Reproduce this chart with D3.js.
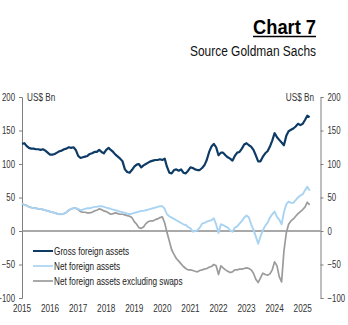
<!DOCTYPE html>
<html>
<head>
<meta charset="utf-8">
<script src="https://cdn.jsdelivr.net/npm/d3@7"></script>
<style>
  body { margin: 0; background: #fff; }
  svg text { font-family: "Liberation Sans", Arial, sans-serif; }
</style>
</head>
<body>
<div id="chart"></div>
<script>
// monthly readings, Jan 2015 onwards (US$ bn)
var start_month = new Date(2015, 0, 1);

var gross = [130,131,127,124,123,123,122,122,121,122,120,117,
  114,114,115,117,119,120,122,123,125,124,125,121,
  112,109,110,111,112,115,116,118,118,121,118,116,
  121,124,121,118,114,111,108,104,92,88,87,91,
  96,99,100,95,98,100,102,104,105,106,106,107,
  106,108,96,87,86,91,92,90,92,87,86,90,
  95,94,92,91,91,94,98,106,118,126,130,125,
  113,117,117,113,110,108,105,112,117,118,123,129,
  131,128,126,121,113,104,104,111,116,119,126,135,
  146,140,136,132,128,142,149,151,153,156,160,158,
  160,166,172,170];

var net = [41,39,38,36,35,34,34,33,33,32,31,30,
  29,28,27,26,25,25,26,28,31,33,34,34,
  33,31,32,33,34,34,35,36,36,37,37,36,
  35,34,33,32,31,30,29,28,27,26,25,26,
  27,28,29,30,30,31,32,33,34,35,36,37,
  37,33,25,22,20,18,16,14,12,10,9,6,
  4,-1,0,1,5,11,12,14,15,16,19,10,
  -3,10,9,7,5,1,-1,5,7,11,15,20,
  23,20,10,2,-8,-19,-8,1,8,12,20,25,
  29,21,17,10,28,40,44,42,42,46,50,53,
  55,61,66,60];

var net_ex_swaps = [41,39,38,36,35,34,34,33,33,32,31,30,
  29,28,27,26,25,25,26,28,31,33,34,34,
  32,29,28,28,27,27,28,30,31,33,32,30,
  29,27,25,26,27,26,25,25,24,23,22,20,
  14,10,5,4,6,11,14,15,15,17,18,20,
  21,12,-2,-15,-28,-35,-41,-45,-49,-53,-56,-58,
  -58,-59,-60,-61,-59,-58,-57,-56,-54,-53,-50,-52,
  -65,-52,-55,-58,-60,-62,-61,-58,-58,-57,-57,-56,
  -55,-56,-58,-63,-72,-77,-70,-63,-65,-66,-64,-58,
  -46,-52,-68,-76,-30,-3,10,15,18,22,26,29,
  32,36,43,39];

var series_names = ["Gross foreign assets", "Net foreign assets", "Net foreign assets excluding swaps"];
var series_colors = ["#0d3b66", "#a9d3f2", "#9b9b9b"];
var y_ticks = [-100, -50, 0, 50, 100, 150, 200];
var x_years = d3.range(2015, 2026);

var width = 348, height = 325;

var svg = d3.select("#chart").append("svg")
  .attr("width", width)
  .attr("height", height);

// no narrow font installed, so squeeze the glyphs by hand
function narrow(sel, k) {
  sel.each(function() {
    var w = this.getComputedTextLength();
    d3.select(this)
      .attr("textLength", w * (k || 0.82))
      .attr("lengthAdjust", "spacingAndGlyphs");
  });
}

function month_date(i) { return d3.timeMonth.offset(start_month, i); }

var x = d3.scaleTime()
  .domain([new Date(2015, 0, 1), new Date(2025, 7, 20)])
  .range([22, 320.5]);

var y = d3.scaleLinear()
  .domain([-100, 200])
  .range([298, 97]);

// title
svg.append("text")
  .attr("x", 316).attr("y", 34)
  .attr("text-anchor", "end")
  .attr("font-weight", "bold")
  .attr("font-size", 20)
  .attr("fill", "#000")
  .attr("textLength", 63)
  .attr("lengthAdjust", "spacingAndGlyphs")
  .text("Chart 7");
svg.append("line")
  .attr("x1", 253).attr("x2", 316)
  .attr("y1", 36.5).attr("y2", 36.5)
  .attr("stroke", "#000").attr("stroke-width", 1.3);
svg.append("text")
  .attr("x", 316).attr("y", 56)
  .attr("text-anchor", "end")
  .attr("font-size", 14)
  .attr("fill", "#111")
  .attr("textLength", 126)
  .attr("lengthAdjust", "spacingAndGlyphs")
  .text("Source Goldman Sachs");

// axes
var left_axis = d3.axisLeft(y).tickValues(y_ticks).tickSize(3).tickPadding(4);
var right_axis = d3.axisRight(y).tickValues(y_ticks).tickSize(3).tickPadding(4);

function style_axis(g) {
  g.select(".domain").attr("stroke", "#7f7f7f");
  g.selectAll(".tick line").attr("stroke", "#7f7f7f");
  g.selectAll(".tick text")
    .attr("font-size", 10)
    .attr("fill", "#333")
    .attr("font-family", null)
    .call(narrow, 0.78);
}

svg.append("g")
  .attr("transform", "translate(" + x.range()[0] + ",0)")
  .call(left_axis)
  .call(style_axis);

svg.append("g")
  .attr("transform", "translate(" + x.range()[1] + ",0)")
  .call(right_axis)
  .call(style_axis);

// year labels (no tick marks)
svg.append("g")
  .selectAll("text")
  .data(x_years)
  .join("text")
    .attr("x", d => x(new Date(d, 0, 1)))
    .attr("y", 312)
    .attr("text-anchor", "middle")
    .attr("font-size", 10)
    .attr("fill", "#333")
    .text(d => d)
    .call(narrow);

// unit labels
svg.append("text")
  .attr("x", 27).attr("y", 101)
  .attr("font-size", 10)
  .attr("fill", "#333")
  .text("US$ Bn")
  .call(narrow);
svg.append("text")
  .attr("x", 314).attr("y", 101)
  .attr("text-anchor", "end")
  .attr("font-size", 10)
  .attr("fill", "#333")
  .text("US$ Bn")
  .call(narrow);

// zero line
svg.append("line")
  .attr("x1", x.range()[0]).attr("x2", x.range()[1])
  .attr("y1", y(0)).attr("y2", y(0))
  .attr("stroke", "#8c8c8c")
  .attr("stroke-width", 1.5);

var line = d3.line()
  .x((d, i) => x(month_date(i)))
  .y(d => y(d));

var all_series = [gross, net, net_ex_swaps];
var widths = [2.2, 1.9, 1.7];

[2, 1, 0].forEach(function(k) {
  svg.append("path")
    .datum(all_series[k])
    .attr("fill", "none")
    .attr("stroke", series_colors[k])
    .attr("stroke-width", widths[k])
    .attr("stroke-linejoin", "round")
    .attr("d", line);
});

// legend
var legend = svg.append("g")
  .selectAll("g")
  .data(series_names)
  .join("g")
    .attr("transform", (d, i) => "translate(33," + (251 + i * 15) + ")");

legend.append("line")
  .attr("x1", 0).attr("x2", 20)
  .attr("stroke", (d, i) => series_colors[i])
  .attr("stroke-width", (d, i) => i == 0 ? 2 : 1.7);

legend.append("text")
  .attr("x", 21)
  .attr("y", 3.5)
  .attr("font-size", 10)
  .attr("fill", "#1a1a1a")
  .text(d => d)
  .call(narrow);
</script>
</body>
</html>
